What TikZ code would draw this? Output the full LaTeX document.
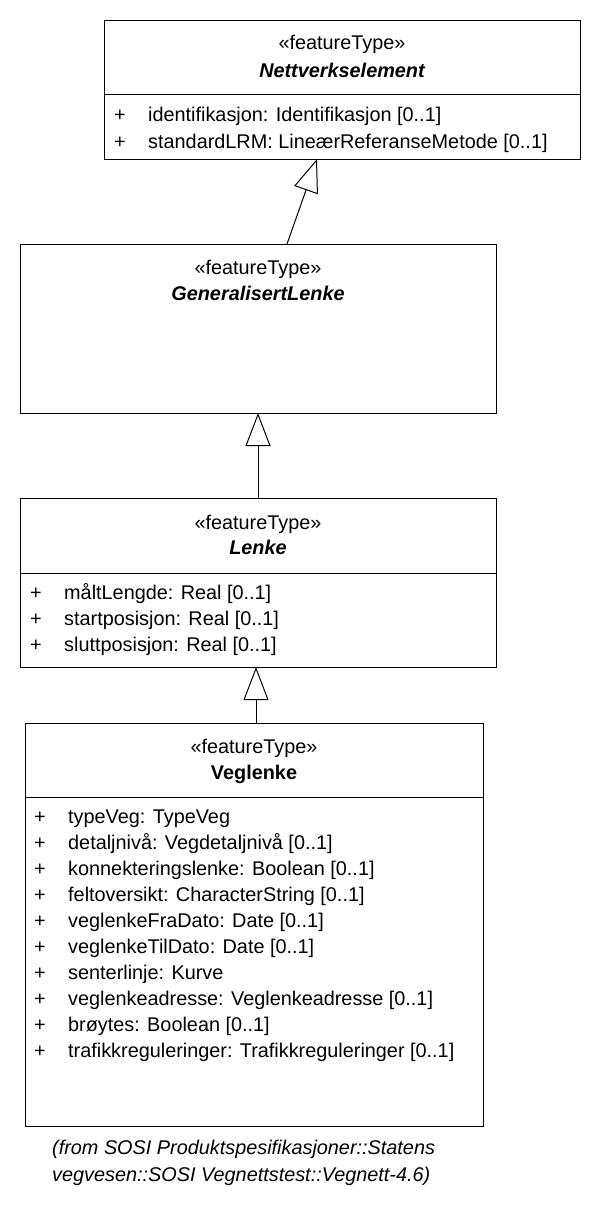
\documentclass[tikz,border=0pt]{standalone}
\usepackage{fontspec}
\setmainfont{Liberation Sans}
\usetikzlibrary{arrows.meta}
\begin{document}
\begin{tikzpicture}[x=1pt,y=-1pt,
  box/.style={draw, line width=1pt, anchor=north west, inner sep=0pt, fill=white},
  txt/.style={font=\fontsize{19.85}{24}\selectfont, inner sep=0pt},
  stereo/.style={txt, anchor=base},
  cname/.style={txt, anchor=base, font=\fontsize{19.85}{24}\selectfont\bfseries\itshape},
  cnameb/.style={txt, anchor=base, font=\fontsize{19.85}{24}\selectfont\bfseries},
  plus/.style={txt, anchor=base},
  attr/.style={txt, anchor=base west},
  note/.style={txt, anchor=base west, font=\fontsize{19.85}{24}\selectfont\itshape},
  gen/.style={-{Triangle[open,length=33pt,width=25pt]}, line width=1pt}]
\useasboundingbox (0,0) rectangle (600,1220);

% Nettverkselement
\node[box, minimum width=476pt, minimum height=139pt] (ne) at (104,20) {};
\draw[line width=1pt] (104,95) coordinate (ned1) -- (580,95) coordinate (ned2);
\node[stereo] (ne1) at (342,50) {«featureType»};
\node[cname] (ne2) at (342,78) {Nettverkselement};
\node[plus] (nep1) at (120,122) {+};
\node[attr] (nea1) at (148,122) {identifikasjon: Identifikasjon [0..1]};
\node[plus] (nep2) at (120,149) {+};
\node[attr] (nea2) at (148,149) {standardLRM: LineærReferanseMetode [0..1]};

% GeneralisertLenke
\node[box, minimum width=476pt, minimum height=169pt] (gl) at (20,244) {};
\node[stereo] (gl1) at (258,274) {«featureType»};
\node[cname] (gl2) at (258,300) {GeneralisertLenke};

% Lenke
\node[box, minimum width=476pt, minimum height=169pt] (le) at (20,498) {};
\draw[line width=1pt] (20,573) coordinate (led1) -- (496,573) coordinate (led2);
\node[stereo] (le1) at (258,529) {«featureType»};
\node[cname] (le2) at (258,554) {Lenke};
\node[plus] (lep1) at (36,599) {+};
\node[attr] (lea1) at (64,599) {måltLengde: Real [0..1]};
\node[plus] (lep2) at (36,625) {+};
\node[attr] (lea2) at (64,625) {startposisjon: Real [0..1]};
\node[plus] (lep3) at (36,651) {+};
\node[attr] (lea3) at (64,651) {sluttposisjon: Real [0..1]};

% Veglenke
\node[box, minimum width=458.5pt, minimum height=403pt] (vl) at (24.5,723) {};
\draw[line width=1pt] (24.5,797) coordinate (vld1) -- (483,797) coordinate (vld2);
\node[stereo] (vl1) at (254,753) {«featureType»};
\node[cnameb] (vl2) at (254,779) {Veglenke};
\foreach \t [count=\i from 0] in {
  {typeVeg: TypeVeg},
  {detaljnivå: Vegdetaljnivå [0..1]},
  {konnekteringslenke: Boolean [0..1]},
  {feltoversikt: CharacterString [0..1]},
  {veglenkeFraDato: Date [0..1]},
  {veglenkeTilDato: Date [0..1]},
  {senterlinje: Kurve},
  {veglenkeadresse: Veglenkeadresse [0..1]},
  {brøytes: Boolean [0..1]},
  {trafikkreguleringer: Trafikkreguleringer [0..1]}} {
  \node[plus] (vlp\i) at (40,823+26*\i) {+};
  \node[attr] (vla\i) at (68,823+26*\i) {\t};
}

% note
\node[note] (n1) at (52,1154) {(from SOSI Produktspesifikasjoner::Statens};
\node[note] (n2) at (52,1181) {vegvesen::SOSI Vegnettstest::Vegnett-4.6)};

% generalizations
\coordinate (g1s) at (287,244);
\coordinate (g1e) at (317,159);
\draw[gen] (g1s) -- (g1e);
\coordinate (g2s) at (258,498);
\coordinate (g2e) at (258,413);
\draw[gen] (g2s) -- (g2e);
\coordinate (g3s) at (256,723);
\coordinate (g3e) at (256,667);
\draw[gen] (g3s) -- (g3e);
\end{tikzpicture}
\end{document}
